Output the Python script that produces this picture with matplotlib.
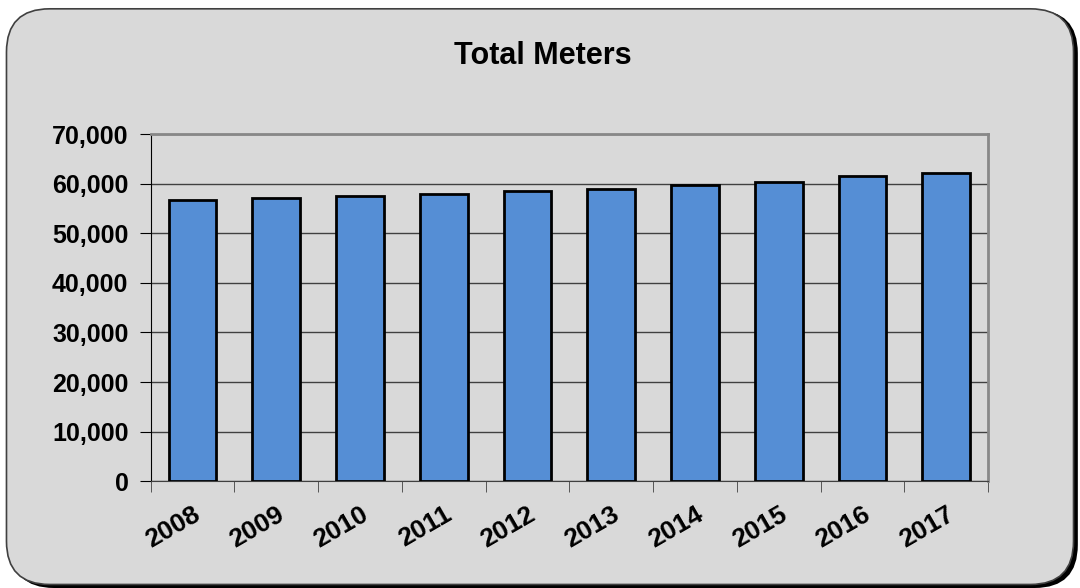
import numpy as np
import matplotlib.pyplot as plt
from matplotlib.patches import FancyBboxPatch
from matplotlib.ticker import FuncFormatter, FixedLocator

plt.rcParams['font.family'] = ['Liberation Sans', 'DejaVu Sans']

years = ["2008", "2009", "2010", "2011", "2012", "2013", "2014", "2015", "2016", "2017"]
meters = [56700, 57050, 57500, 57980, 58450, 58900, 59650, 60400, 61450, 62200]

bg = "#D9D9D9"
fig = plt.figure(figsize=(10.8, 5.88), dpi=100)
fig.patch.set_facecolor("white")

# rounded frame with a dark shadow
shadow = FancyBboxPatch((0.010, 0.0), 0.988, 0.983, boxstyle="round,pad=0,rounding_size=0.04",
                        transform=fig.transFigure, facecolor="black", edgecolor="none",
                        mutation_aspect=1080 / 588, zorder=0)
frame = FancyBboxPatch((0.006, 0.006), 0.988, 0.979, boxstyle="round,pad=0,rounding_size=0.04",
                       transform=fig.transFigure, facecolor=bg, edgecolor="#404040", linewidth=1.2,
                       mutation_aspect=1080 / 588, zorder=1)
fig.patches.extend([shadow, frame])

ax = fig.add_axes([0.1395, 0.1815, 0.7755, 0.5905])
ax.set_zorder(5)
ax.set_facecolor(bg)
x = np.arange(len(years))
ax.bar(x, meters, width=0.57, color="#558ED5", edgecolor="black", linewidth=2, zorder=3)

ax.set_xlim(-0.5, len(years) - 0.5)
ax.set_ylim(0, 70000)
ax.set_yticks(np.arange(0, 70001, 10000))
ax.yaxis.set_major_formatter(FuncFormatter(lambda v, p: f"{int(v):,}"))
ax.grid(True, axis="y", color="#404040", linewidth=1, zorder=1)

ax.set_xticks(x)
ax.set_xticklabels(years, rotation=30, ha="right", rotation_mode="anchor",
                   fontsize=19, fontweight="bold")
ax.xaxis.set_minor_locator(FixedLocator(np.arange(-0.5, len(years), 1)))
ax.tick_params(axis="x", which="major", length=0, pad=15)
ax.tick_params(axis="x", which="minor", length=8, color="#404040")
ax.tick_params(axis="y", length=8, labelsize=18, pad=8)
for lbl in ax.get_yticklabels():
    lbl.set_fontweight("bold")

ax.spines["left"].set_color("black")
ax.spines["bottom"].set_color("#404040")
ax.spines["top"].set_color("#888888")
ax.spines["top"].set_linewidth(2)
ax.spines["right"].set_color("#888888")
ax.spines["right"].set_linewidth(2)

fig.text(0.503, 0.905, "Total Meters", ha="center", va="center", fontsize=22, fontweight="bold")

plt.savefig("out.png", dpi=100)
